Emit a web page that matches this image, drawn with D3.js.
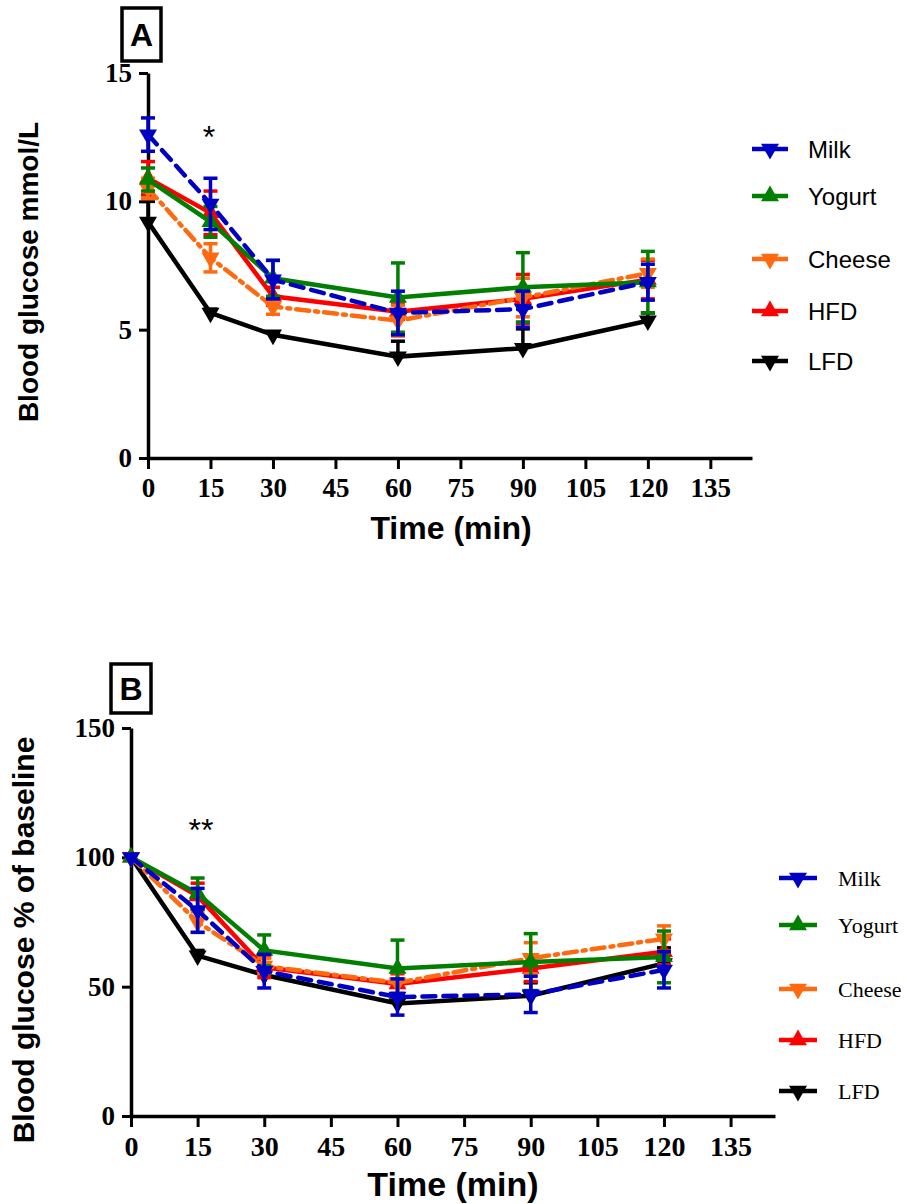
<!DOCTYPE html>
<html lang="en">
<head>
  <meta charset="UTF-8">
  <title>Blood glucose time course</title>
  <script src="https://d3js.org/d3.v7.min.js"></script>
  <style>
    body { margin: 0; background: #fff; }
    svg { display: block; }
    .sans { font-family: 'Liberation Sans', Arial, sans-serif; font-weight: bold; }
    .serif { font-family: 'Liberation Serif', 'Times New Roman', serif; }
  </style>
</head>
<body>
  <svg id="chart" width="907" height="1204"></svg>

  <script>
    // sampling times (min)
    const times = [0, 15, 30, 60, 90, 120];
    const xTicks = [0, 15, 30, 45, 60, 75, 90, 105, 120, 135];

    const groups = ["Milk", "Yogurt", "Cheese", "HFD", "LFD"];

    // Panel A: blood glucose, mmol/L (mean and SEM)
    const milkA = [12.6, 9.9, 6.95, 5.65, 5.8, 6.85];
    const milkAse = [0.65, 1.0, 0.75, 0.85, 0.7, 0.7];
    const yogurtA = [10.85, 9.2, 7.0, 6.25, 6.65, 6.85];
    const yogurtAse = [0.45, 0.6, 0.7, 1.35, 1.35, 1.2];
    const cheeseA = [10.5, 7.8, 5.9, 5.35, 6.25, 7.2];
    const cheeseAse = [0.4, 0.55, 0.3, 0.6, 0.75, 0.55];
    const hfdA = [10.9, 9.55, 6.3, 5.7, 6.2, 6.95];
    const hfdAse = [0.65, 0.85, 0.35, 0.3, 0.95, 0.75];
    const lfdA = [9.2, 5.65, 4.8, 3.95, 4.28, 5.35];
    const lfdAse = [0.8, 0.15, 0.1, 0.6, 0.75, 0.3];

    // Panel B: blood glucose, % of baseline (mean and SEM)
    const milkB = [100, 79.5, 56, 46, 47, 56.5];
    const milkBse = [0, 8.5, 6.5, 7, 7, 7];
    const yogurtB = [100, 86, 64, 57, 59.5, 61.5];
    const yogurtBse = [0, 6, 6, 11, 11, 10];
    const cheeseB = [100, 75, 58, 51.5, 61, 68.5];
    const cheeseBse = [0, 4, 3, 4, 6, 5];
    const hfdB = [100, 85, 57.5, 51, 57, 63.5];
    const hfdBse = [0, 5, 4, 4, 5, 5];
    const lfdB = [100, 62, 54.5, 43.5, 46.5, 59];
    const lfdBse = [0, 2, 2, 3, 5, 6];

    const styles = {
      Milk:   { color: "#0000c4", dash: "13,8", down: true, upOnly: false },
      Yogurt: { color: "#007f00", dash: null, down: false, upOnly: false },
      Cheese: { color: "#ff6a10", dash: "13,6,3,6", down: true, upOnly: false },
      HFD:    { color: "#ff0000", dash: null, down: false, upOnly: false },
      LFD:    { color: "#000000", dash: null, down: true, upOnly: true }
    };
    // back to front
    const drawOrder = ["LFD", "HFD", "Cheese", "Yogurt", "Milk"];

    const svg = d3.select("#chart");
    const tri = d3.symbol().type(d3.symbolTriangle).size(140);

    function drawPanel(p) {
      const g = svg.append("g");
      const x = d3.scaleLinear().domain([0, 145]).range([p.x0, p.x1]);
      const y = d3.scaleLinear().domain([0, p.yMax]).range([p.y0, p.y1]);

      // axes
      const yAxis = g.append("g")
        .attr("transform", `translate(${p.x0},0)`)
        .call(d3.axisLeft(y).tickValues(p.yTicks).tickSize(9).tickSizeOuter(0).tickPadding(7));
      yAxis.selectAll("text").attr("class", "serif")
        .style("font-size", p.yTickFont + "px").style("font-weight", "bold").attr("fill", "#000");

      const xAxis = g.append("g")
        .attr("transform", `translate(0,${p.y0})`)
        .call(d3.axisBottom(x).tickValues(xTicks).tickSize(11).tickSizeOuter(0).tickPadding(9));
      xAxis.selectAll("text").attr("class", "serif")
        .style("font-size", p.xTickFont + "px").style("font-weight", "bold").attr("fill", "#000");

      g.selectAll(".domain").attr("stroke", "#000").attr("stroke-width", 3.5);
      g.selectAll(".tick line").attr("stroke", "#000").attr("stroke-width", 3);

      // series
      drawOrder.forEach(name => {
        const st = styles[name];
        const vals = p.data[name];
        const se = p.se[name];
        const pts = times.map((t, i) => ({ t, v: vals[i], e: se[i] }));

        const line = d3.line().x(d => x(d.t)).y(d => y(d.v));
        g.append("path")
          .datum(pts)
          .attr("d", line)
          .attr("fill", "none")
          .attr("stroke", st.color)
          .attr("stroke-width", 4.5)
          .attr("stroke-dasharray", st.dash)
          .attr("stroke-linecap", st.dash ? "round" : "butt");

        const lo = d => st.upOnly ? d.v : d.v - d.e;
        const eb = g.append("g").selectAll("g")
          .data(pts.filter(d => d.e > 0))
          .join("g")
          .attr("stroke", st.color)
          .attr("stroke-width", 3.5);
        eb.append("line")
          .attr("x1", d => x(d.t)).attr("x2", d => x(d.t))
          .attr("y1", d => y(d.v + d.e)).attr("y2", d => y(lo(d)));
        eb.append("line")
          .attr("x1", d => x(d.t) - 7).attr("x2", d => x(d.t) + 7)
          .attr("y1", d => y(d.v + d.e)).attr("y2", d => y(d.v + d.e));
        if (!st.upOnly) {
          eb.append("line")
            .attr("x1", d => x(d.t) - 7).attr("x2", d => x(d.t) + 7)
            .attr("y1", d => y(d.v - d.e)).attr("y2", d => y(d.v - d.e));
        }

        g.append("g").selectAll("path")
          .data(pts)
          .join("path")
          .attr("d", tri)
          .attr("fill", st.color)
          .attr("transform", d => `translate(${x(d.t)},${y(d.v)}) rotate(${st.down ? 180 : 0})`);
      });

      // axis titles
      g.append("text")
        .attr("class", "sans")
        .attr("x", p.xTitle[0]).attr("y", p.xTitle[1])
        .attr("text-anchor", "middle")
        .style("font-size", p.xTitleFont + "px")
        .text("Time (min)");
      g.append("text")
        .attr("class", "sans")
        .attr("transform", `translate(${p.yTitle[0]},${p.yTitle[1]}) rotate(-90)`)
        .attr("text-anchor", "middle")
        .attr("dominant-baseline", "central")
        .style("font-size", p.yTitleFont + "px")
        .text(p.yLabel);

      // panel letter
      g.append("rect")
        .attr("x", p.box[0]).attr("y", p.box[1])
        .attr("width", p.box[2]).attr("height", p.box[3])
        .attr("fill", "none").attr("stroke", "#000").attr("stroke-width", 3.5);
      g.append("text")
        .attr("class", "sans")
        .attr("x", p.box[0] + p.box[2] / 2).attr("y", p.box[1] + p.box[3] / 2)
        .attr("text-anchor", "middle").attr("dominant-baseline", "central")
        .style("font-size", "32px")
        .text(p.letter);

      // significance marker
      g.append("text")
        .attr("class", "sans")
        .attr("x", p.star[0]).attr("y", p.star[1])
        .attr("text-anchor", "middle")
        .style("font-size", "32px").style("font-weight", "normal")
        .text(p.starText);

      // legend
      const lg = g.append("g");
      groups.forEach((name, i) => {
        const st = styles[name];
        const cy = p.legend.ys[i];
        lg.append("line")
          .attr("x1", p.legend.x0).attr("x2", p.legend.x1)
          .attr("y1", cy).attr("y2", cy)
          .attr("stroke", st.color).attr("stroke-width", 4.5);
        lg.append("path")
          .attr("d", tri)
          .attr("fill", st.color)
          .attr("transform", `translate(${(p.legend.x0 + p.legend.x1) / 2},${cy}) rotate(${st.down ? 180 : 0})`);
        lg.append("text")
          .attr("class", p.legend.serif ? "serif" : "sans")
          .attr("x", p.legend.tx).attr("y", cy)
          .attr("dominant-baseline", "central")
          .style("font-size", p.legend.font + "px")
          .style("font-weight", "normal")
          .text(name);
      });
    }

    drawPanel({
      letter: "A",
      x0: 148, x1: 752, y0: 458, y1: 73, yMax: 15,
      yTicks: [0, 5, 10, 15],
      yTickFont: 27, xTickFont: 27,
      data: { Milk: milkA, Yogurt: yogurtA, Cheese: cheeseA, HFD: hfdA, LFD: lfdA },
      se: { Milk: milkAse, Yogurt: yogurtAse, Cheese: cheeseAse, HFD: hfdAse, LFD: lfdAse },
      xTitle: [451, 539], xTitleFont: 32,
      yTitle: [28, 272], yTitleFont: 28, yLabel: "Blood glucose mmol/L",
      box: [122, 8, 39, 53],
      star: [209, 148], starText: "*",
      legend: { x0: 752, x1: 788, tx: 808, font: 24, serif: false, ys: [149, 196, 259, 311, 361] }
    });

    drawPanel({
      letter: "B",
      x0: 131, x1: 775, y0: 1116, y1: 728, yMax: 150,
      yTicks: [0, 50, 100, 150],
      yTickFont: 27, xTickFont: 28,
      data: { Milk: milkB, Yogurt: yogurtB, Cheese: cheeseB, HFD: hfdB, LFD: lfdB },
      se: { Milk: milkBse, Yogurt: yogurtBse, Cheese: cheeseBse, HFD: hfdBse, LFD: lfdBse },
      xTitle: [453, 1196], xTitleFont: 34,
      yTitle: [23, 940], yTitleFont: 30, yLabel: "Blood glucose % of baseline",
      box: [111, 664, 40, 49],
      star: [201, 841], starText: "**",
      legend: { x0: 779, x1: 817, tx: 838, font: 22, serif: true, ys: [878, 925, 989, 1040, 1091] }
    });
  </script>
</body>
</html>
